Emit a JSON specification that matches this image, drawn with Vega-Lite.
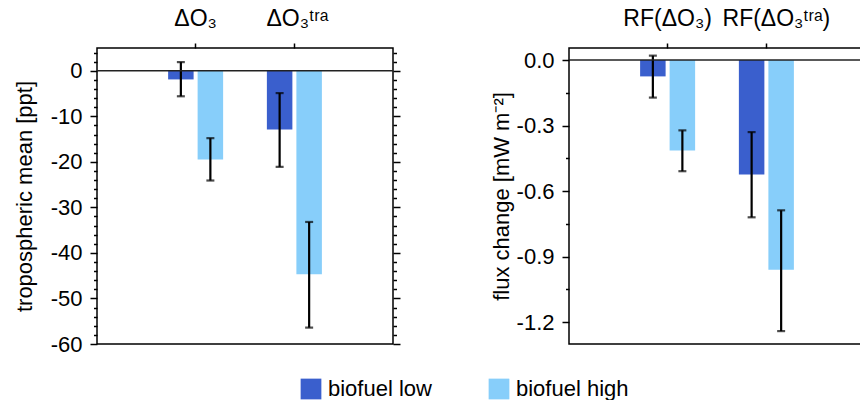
{
  "$schema": "https://vega.github.io/schema/vega-lite/v6.json",
  "padding": {"left": 12, "top": 6, "right": 0, "bottom": 0},
  "spacing": 87,
  "datasets": {
    "ozone": [
      {"cat": "ΔO₃", "series": "biofuel low", "value": -1.9, "lo": -5.6, "hi": 1.9},
      {"cat": "ΔO₃", "series": "biofuel high", "value": -19.5, "lo": -24.1, "hi": -14.8},
      {"cat": "ΔO₃ᵗʳᵃ", "series": "biofuel low", "value": -12.9, "lo": -21.1, "hi": -4.9},
      {"cat": "ΔO₃ᵗʳᵃ", "series": "biofuel high", "value": -44.7, "lo": -56.4, "hi": -33.2}
    ],
    "flux": [
      {"cat": "RF(ΔO₃)", "series": "biofuel low", "value": -0.075, "lo": -0.172, "hi": 0.02},
      {"cat": "RF(ΔO₃)", "series": "biofuel high", "value": -0.414, "lo": -0.509, "hi": -0.322},
      {"cat": "RF(ΔO₃ᵗʳᵃ)", "series": "biofuel low", "value": -0.524, "lo": -0.72, "hi": -0.33},
      {"cat": "RF(ΔO₃ᵗʳᵃ)", "series": "biofuel high", "value": -0.96, "lo": -1.241, "hi": -0.688}
    ],
    "zero": [{"z": 0}]
  },
  "config": {
    "font": "Liberation Sans",
    "view": {"stroke": "black", "strokeWidth": 1.5},
    "axis": {
      "labelFont": "Liberation Sans",
      "titleFont": "Liberation Sans",
      "labelColor": "black",
      "titleColor": "black",
      "tickColor": "black",
      "tickWidth": 1.5,
      "domain": false,
      "grid": false,
      "titleFontWeight": "normal",
      "labelFontSize": 22,
      "titleFontSize": 22,
      "labelOverlap": false
    },
    "legend": {
      "orient": "none",
      "legendX": 203,
      "legendY": 330,
      "direction": "horizontal",
      "title": null,
      "symbolType": "square",
      "symbolSize": 430,
      "symbolStrokeWidth": 0,
      "symbolOpacity": 1,
      "labelFont": "Liberation Sans",
      "labelFontSize": 22,
      "labelColor": "black",
      "labelOffset": 6,
      "columnPadding": 56
    }
  },
  "resolve": {"scale": {"color": "shared"}},
  "hconcat": [
    {
      "width": 296,
      "height": 296,
      "data": {"name": "ozone"},
      "resolve": {"axis": {"y": "independent"}},
      "layer": [
        {
          "mark": {"type": "bar"},
          "encoding": {
            "x": {"field": "cat", "type": "nominal", "sort": ["ΔO₃", "ΔO₃ᵗʳᵃ"], "scale": {"paddingInner": 0.443, "paddingOuter": 0.72},
              "axis": {"orient": "top", "title": null, "labelAngle": 0, "labelFontSize": 23, "tickSize": 5, "labelPadding": 13,
                "labelOffset": {"condition": {"test": "datum.value == 'ΔO₃ᵗʳᵃ'", "value": 3}, "value": 0}}},
            "xOffset": {"field": "series", "type": "nominal", "sort": ["biofuel low", "biofuel high"], "scale": {"paddingInner": 0.136, "paddingOuter": 0}},
            "y": {"field": "value", "type": "quantitative", "scale": {"domain": [-60, 5], "nice": false, "zero": false},
              "axis": {"orient": "left", "title": "tropospheric mean [ppt]", "titlePadding": 14,
                "values": [-60,-58,-56,-54,-52,-50,-48,-46,-44,-42,-40,-38,-36,-34,-32,-30,-28,-26,-24,-22,-20,-18,-16,-14,-12,-10,-8,-6,-4,-2,0,2,4],
                "labelExpr": "datum.value % 10 === 0 ? replace(datum.label, '−', '-') : ''",
                "tickSize": {"condition": {"test": "datum.value % 10 === 0", "value": 7}, "value": 3.5},
                "labelPadding": 8}},
            "color": {"field": "series", "type": "nominal", "scale": {"domain": ["biofuel low", "biofuel high"], "range": ["#3A5FCD", "#87CEFA"]}}
          }
        },
        {
          "mark": {"type": "rule", "color": "black", "strokeWidth": 2.2},
          "encoding": {
            "x": {"field": "cat", "type": "nominal", "sort": ["ΔO₃", "ΔO₃ᵗʳᵃ"]},
            "xOffset": {"field": "series", "type": "nominal", "sort": ["biofuel low", "biofuel high"]},
            "y": {"field": "lo", "type": "quantitative", "scale": {"domain": [-60, 5], "nice": false, "zero": false}, "axis": null},
            "y2": {"field": "hi"}
          }
        },
        {
          "mark": {"type": "tick", "color": "black", "thickness": 2.2, "size": 8},
          "encoding": {
            "x": {"field": "cat", "type": "nominal", "sort": ["ΔO₃", "ΔO₃ᵗʳᵃ"]},
            "xOffset": {"field": "series", "type": "nominal", "sort": ["biofuel low", "biofuel high"]},
            "y": {"field": "lo", "type": "quantitative", "scale": {"domain": [-60, 5], "nice": false, "zero": false}, "axis": null}
          }
        },
        {
          "mark": {"type": "tick", "color": "black", "thickness": 2.2, "size": 8},
          "encoding": {
            "x": {"field": "cat", "type": "nominal", "sort": ["ΔO₃", "ΔO₃ᵗʳᵃ"]},
            "xOffset": {"field": "series", "type": "nominal", "sort": ["biofuel low", "biofuel high"]},
            "y": {"field": "hi", "type": "quantitative", "scale": {"domain": [-60, 5], "nice": false, "zero": false}, "axis": null}
          }
        },
        {
          "data": {"name": "zero"},
          "mark": {"type": "rule", "color": "#222222", "strokeWidth": 1.5},
          "encoding": {
            "y": {"field": "z", "type": "quantitative", "scale": {"domain": [-60, 5], "nice": false, "zero": false},
              "axis": {"orient": "right", "title": null, "labels": false,
                "values": [-60,-58,-56,-54,-52,-50,-48,-46,-44,-42,-40,-38,-36,-34,-32,-30,-28,-26,-24,-22,-20,-18,-16,-14,-12,-10,-8,-6,-4,-2,0,2,4],
                "tickSize": {"condition": {"test": "datum.value % 10 === 0", "value": 7}, "value": 3.5}}}
          }
        }
      ]
    },
    {
      "width": 296,
      "height": 296,
      "data": {"name": "flux"},
      "resolve": {"axis": {"y": "independent"}},
      "layer": [
        {
          "mark": {"type": "bar"},
          "encoding": {
            "x": {"field": "cat", "type": "nominal", "sort": ["RF(ΔO₃)", "RF(ΔO₃ᵗʳᵃ)"], "scale": {"paddingInner": 0.443, "paddingOuter": 0.72},
              "axis": {"orient": "top", "title": null, "labelAngle": 0, "labelFontSize": 23, "tickSize": 5, "labelPadding": 13,
                "labelOffset": {"condition": {"test": "datum.value == 'RF(ΔO₃ᵗʳᵃ)'", "value": 10}, "value": 0}}},
            "xOffset": {"field": "series", "type": "nominal", "sort": ["biofuel low", "biofuel high"], "scale": {"paddingInner": 0.136, "paddingOuter": 0}},
            "y": {"field": "value", "type": "quantitative", "scale": {"domain": [-1.3, 0.055], "nice": false, "zero": false},
              "axis": {"orient": "left", "title": "flux change [mW m⁻²]", "titlePadding": 3,
                "values": [-1.2, -1.05, -0.9, -0.75, -0.6, -0.45, -0.3, -0.15, 0],
                "labelExpr": "abs(round(datum.value*100)) % 30 === 0 ? replace(format(datum.value, '.1f'), '−', '-') : ''",
                "tickSize": {"condition": {"test": "abs(round(datum.value*100)) % 30 === 0", "value": 7}, "value": 3.5},
                "labelPadding": 8}},
            "color": {"field": "series", "type": "nominal", "scale": {"domain": ["biofuel low", "biofuel high"], "range": ["#3A5FCD", "#87CEFA"]}}
          }
        },
        {
          "mark": {"type": "rule", "color": "black", "strokeWidth": 2.2},
          "encoding": {
            "x": {"field": "cat", "type": "nominal", "sort": ["RF(ΔO₃)", "RF(ΔO₃ᵗʳᵃ)"]},
            "xOffset": {"field": "series", "type": "nominal", "sort": ["biofuel low", "biofuel high"]},
            "y": {"field": "lo", "type": "quantitative", "scale": {"domain": [-1.3, 0.055], "nice": false, "zero": false}, "axis": null},
            "y2": {"field": "hi"}
          }
        },
        {
          "mark": {"type": "tick", "color": "black", "thickness": 2.2, "size": 8},
          "encoding": {
            "x": {"field": "cat", "type": "nominal", "sort": ["RF(ΔO₃)", "RF(ΔO₃ᵗʳᵃ)"]},
            "xOffset": {"field": "series", "type": "nominal", "sort": ["biofuel low", "biofuel high"]},
            "y": {"field": "lo", "type": "quantitative", "scale": {"domain": [-1.3, 0.055], "nice": false, "zero": false}, "axis": null}
          }
        },
        {
          "mark": {"type": "tick", "color": "black", "thickness": 2.2, "size": 8},
          "encoding": {
            "x": {"field": "cat", "type": "nominal", "sort": ["RF(ΔO₃)", "RF(ΔO₃ᵗʳᵃ)"]},
            "xOffset": {"field": "series", "type": "nominal", "sort": ["biofuel low", "biofuel high"]},
            "y": {"field": "hi", "type": "quantitative", "scale": {"domain": [-1.3, 0.055], "nice": false, "zero": false}, "axis": null}
          }
        },
        {
          "data": {"name": "zero"},
          "mark": {"type": "rule", "color": "#222222", "strokeWidth": 1.5},
          "encoding": {
            "y": {"field": "z", "type": "quantitative", "scale": {"domain": [-1.3, 0.055], "nice": false, "zero": false},
              "axis": {"orient": "right", "title": null, "labels": false,
                "values": [-1.2, -1.05, -0.9, -0.75, -0.6, -0.45, -0.3, -0.15, 0],
                "tickSize": {"condition": {"test": "abs(round(datum.value*100)) % 30 === 0", "value": 7}, "value": 3.5}}}
          }
        }
      ]
    }
  ]
}
